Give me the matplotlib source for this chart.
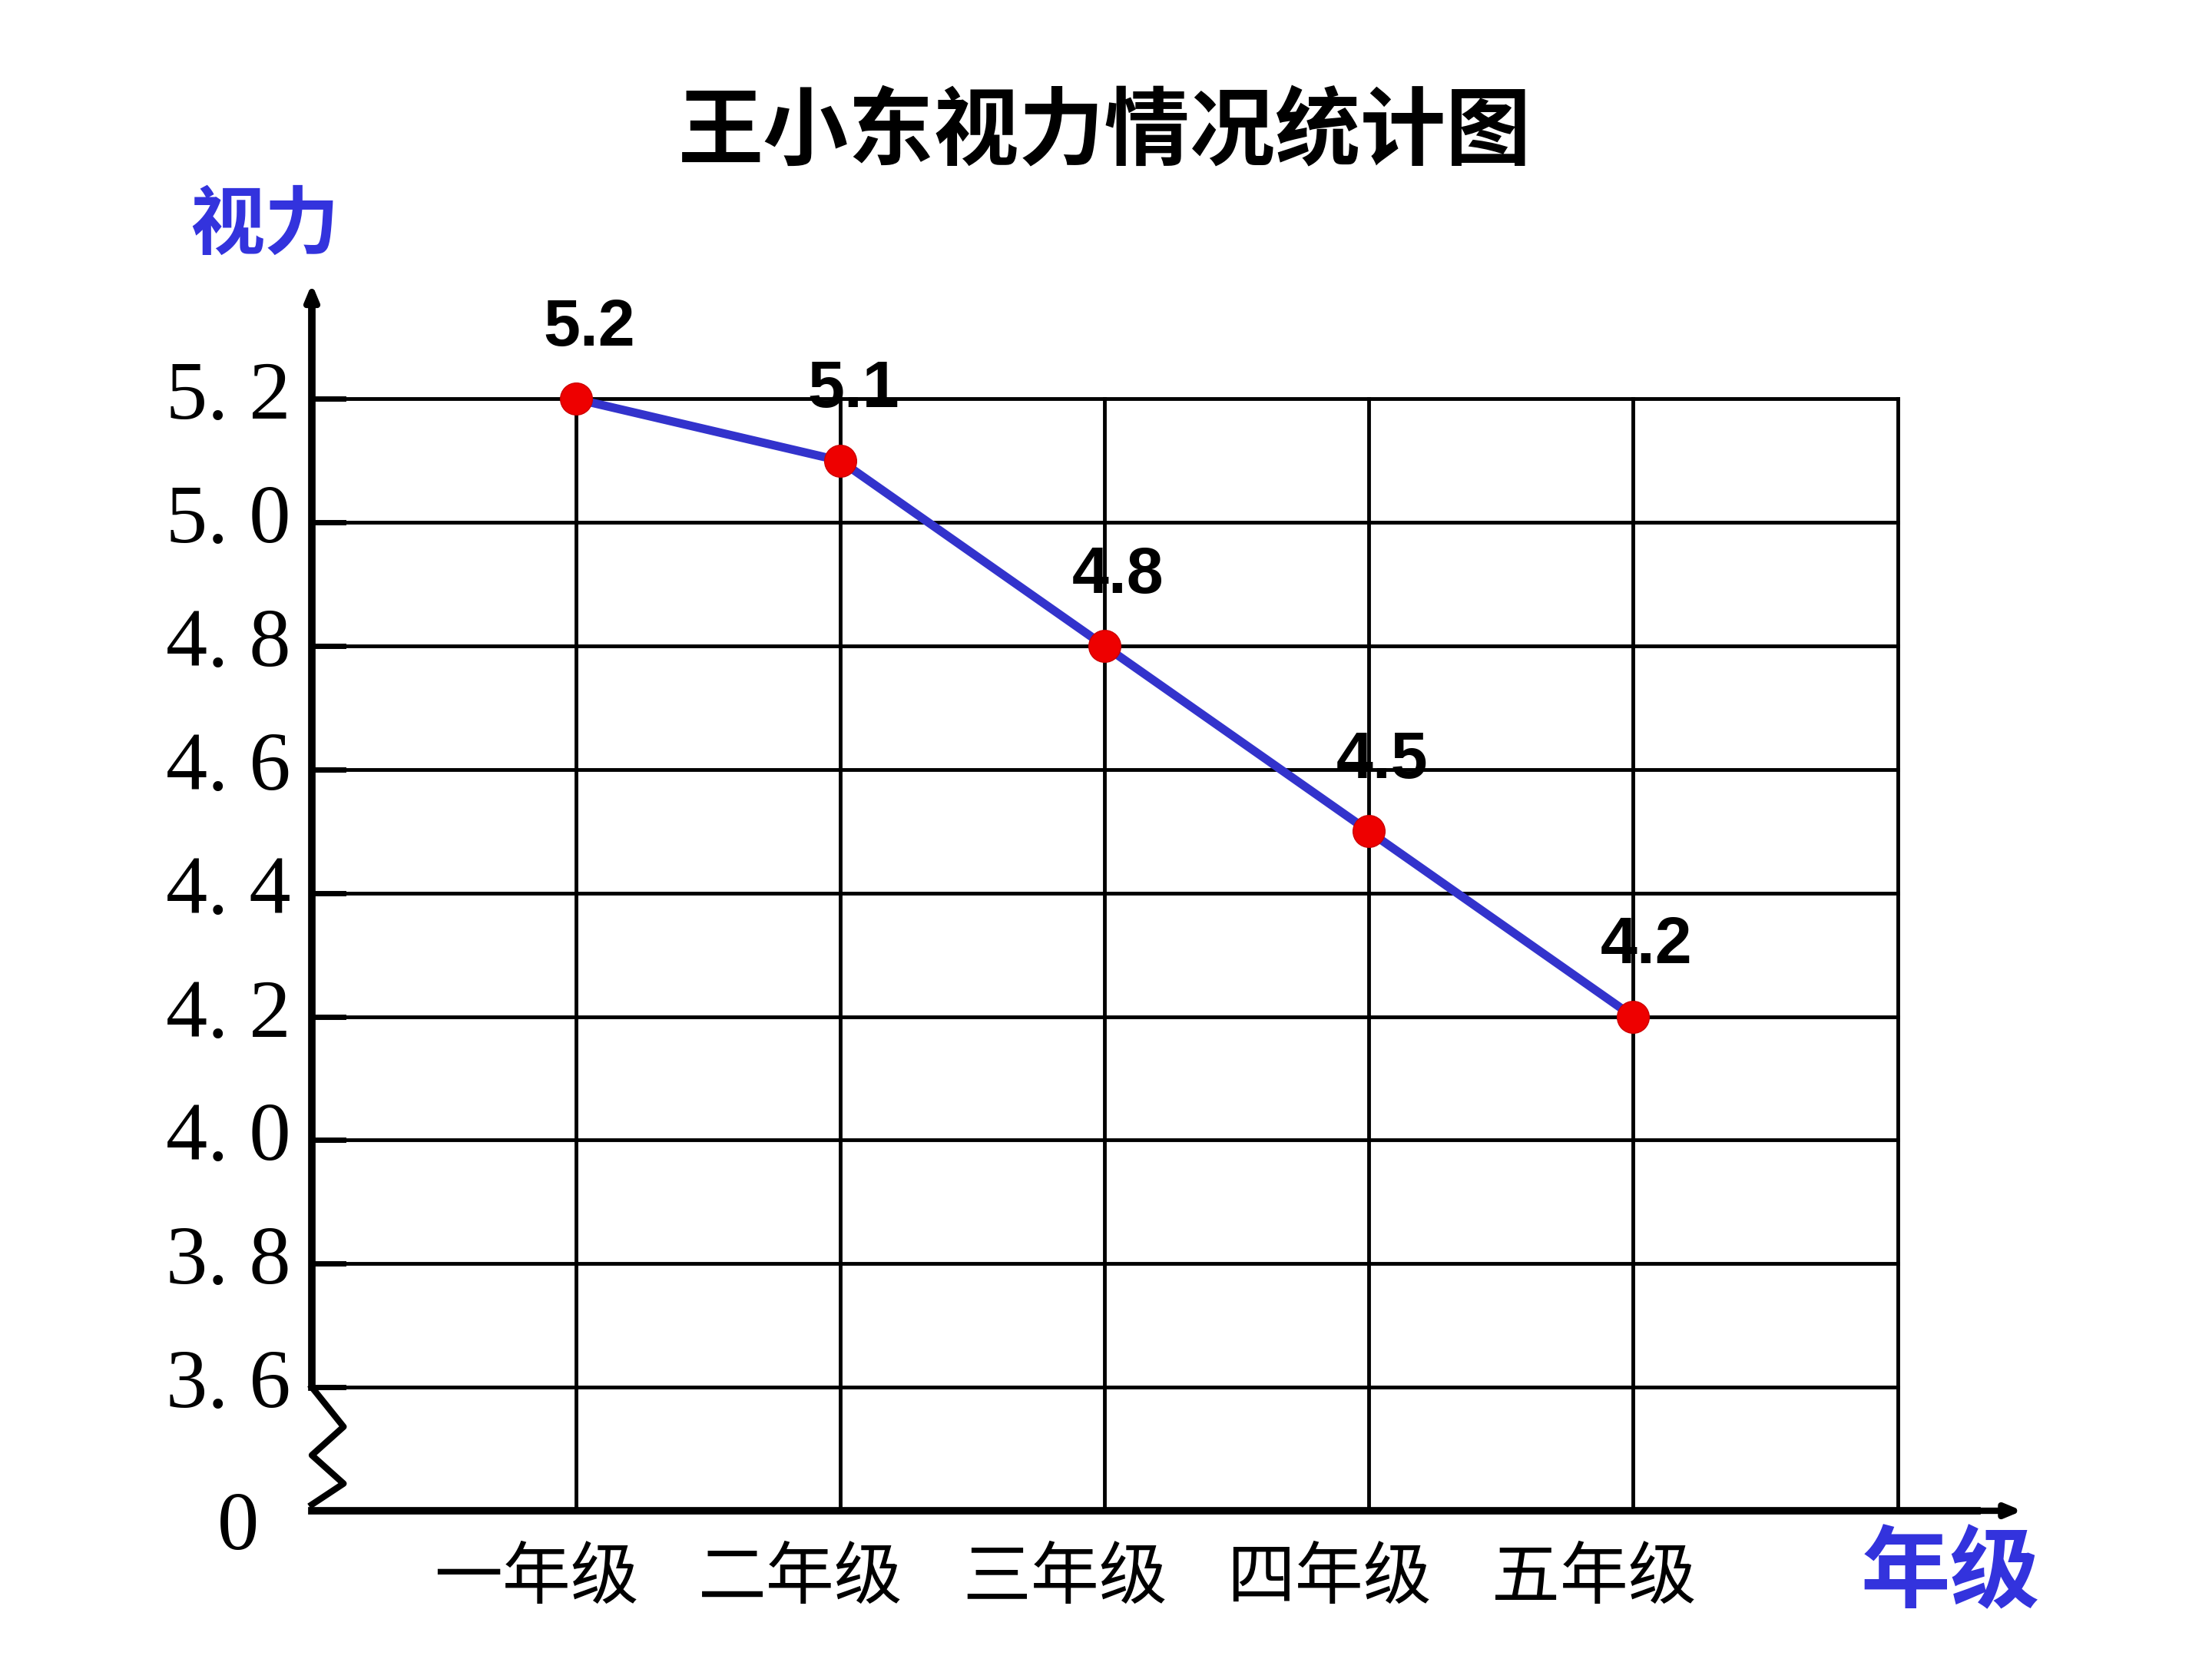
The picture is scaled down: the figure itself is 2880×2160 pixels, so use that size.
import matplotlib.pyplot as plt

grades = ['一年级', '二年级', '三年级', '四年级', '五年级']
vision = [5.2, 5.1, 4.8, 4.5, 4.2]
y_ticks = [3.6, 3.8, 4.0, 4.2, 4.4, 4.6, 4.8, 5.0, 5.2]
y_tick_labels = ['3. 6', '3. 8', '4. 0', '4. 2', '4. 4', '4. 6', '4. 8', '5. 0', '5. 2']

cjk = ['Noto Sans CJK SC', 'DejaVu Sans']


def ypos(v):
    # broken axis: 0 at row 0, 3.6 at row 1, each 0.2 one row
    return 1 + (v - 3.6) / 0.2


fig = plt.figure(figsize=(28.8, 21.6), dpi=100)
ax = fig.add_axes([0, 0, 1, 1])
ax.set_xlim(-1.18, 7.19)
ax.set_ylim(-1.20, 12.23)
ax.axis('off')

ncols = len(grades) + 1
top = ypos(y_ticks[-1])
# grid
for i, t in enumerate(y_ticks):
    ax.plot([0, ncols], [ypos(t), ypos(t)], color='black', lw=3.5, zorder=1)
    ax.plot([0, 0.12], [ypos(t), ypos(t)], color='black', lw=5, zorder=2)
    ax.text(-0.08, ypos(t), y_tick_labels[i], ha='right', va='center',
            fontsize=78, family='Liberation Serif')
for c in range(1, ncols + 1):
    ax.plot([c, c], [0, top], color='black', lw=3.5, zorder=1)

# axes with break
ax.plot([0, 0], [1, top + 0.8], color='black', lw=7, zorder=3)
ax.plot([0, 0.12, 0.0, 0.12, 0.0], [1, 0.68, 0.45, 0.22, 0.05], color='black', lw=6, zorder=3)
ax.annotate('', xy=(0, top + 0.95), xytext=(0, top + 0.3),
            arrowprops=dict(arrowstyle='-|>,head_length=1.2,head_width=0.5', color='black', lw=6))
ax.plot([0, ncols + 0.3], [0, 0], color='black', lw=7, zorder=3)
ax.annotate('', xy=(ncols + 0.48, 0), xytext=(ncols, 0),
            arrowprops=dict(arrowstyle='-|>,head_length=1.2,head_width=0.5', color='black', lw=6))
ax.text(-0.2, -0.15, '0', ha='right', va='center', fontsize=78, family='Liberation Serif')

# line
xs = list(range(1, len(grades) + 1))
ys = [ypos(v) for v in vision]
ax.plot(xs, ys, color='#3333cc', lw=8, zorder=4)
ax.scatter(xs, ys, s=900, color='#ee0000', edgecolors='#cc0000', zorder=5)
for x, y, v in zip(xs, ys, vision):
    ax.text(x + 0.05, y + 0.32, f'{v}', ha='center', va='bottom', fontsize=62,
            fontweight='bold', family='Liberation Sans')

for x, g in zip(xs, grades):
    ax.text(x - 0.15, -0.55, g, ha='center', va='center', fontsize=64,
            family=cjk, fontweight='light')

ax.text(-0.18, top + 1.4, '视力', ha='center', va='center', fontsize=70,
        fontweight='bold', family=cjk, color='#3333dd')
ax.text(ncols + 0.2, -0.52, '年级', ha='center', va='center', fontsize=84,
        fontweight='bold', family=cjk, color='#3333dd')
ax.text(3.0, 11.15, '王小东视力情况统计图', ha='center', va='center', fontsize=80,
        fontweight='bold', family=cjk)

fig.savefig('out.png', dpi=100, facecolor='white')
